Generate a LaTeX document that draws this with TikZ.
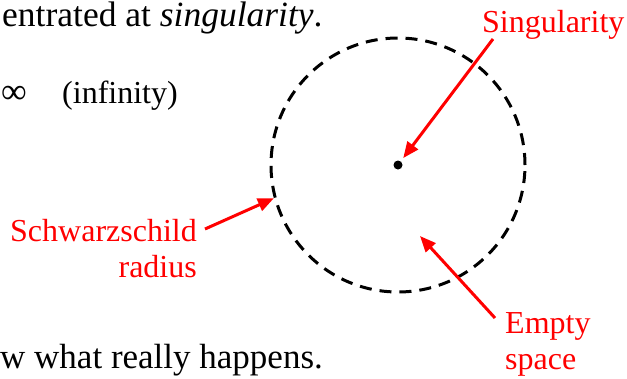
\documentclass[tikz,border=0pt]{standalone}
\usepackage{fontspec}
\setmainfont{Liberation Serif}
\usetikzlibrary{arrows.meta, positioning}
\tikzset{slide/.style={inner sep=0pt,font=\fontsize{35}{40}\selectfont},note/.style={inner sep=0pt,text=red,font=\fontsize{32}{36}\selectfont},ptr/.style={red,line width=3pt,-{Triangle[length=16pt,width=13pt]}}}

\begin{document}
\begin{tikzpicture}[x=1pt,y=-1pt]
\useasboundingbox (0,0) rectangle (627,378);
% slide text around the figure
\node[slide, anchor=base west, font=\fontsize{35.5}{40}\selectfont] (top) at (2,26) {entrated at \textit{singularity}.};
\node[slide, anchor=base west, font=\fontsize{36}{40}\selectfont] (inf) at (1,103) {∞};
\node[slide, anchor=base west, font=\fontsize{32}{36}\selectfont] (infword) at (62,103) {(infinity)};
\node[slide, anchor=base west] (bottom) at (0,368) {w what really happens.};
% black hole
\node[circle, draw, line width=3pt, dash pattern=on 12pt off 8pt, minimum size=254pt, inner sep=0pt] (horizon) at (398,165) {};
\node[circle, fill, minimum size=9pt, inner sep=0pt] (sing) at (398,165) {};
% labels
\node[note, anchor=base west] (singtxt) at (482,32) {Singularity};
\node[note, align=right, anchor=north east] (radtxt) at (197,219) {Schwarzschild\\radius};
\node[note, align=left, anchor=north west] (emptytxt) at (505,312) {Empty\\space};
\coordinate (singtail) at (493,39);
\coordinate (radtail) at (205,229);
\coordinate (emptytail) at (495,318);
\coordinate (emptytip) at (420,236);
\draw[ptr, shorten >=4pt] (singtail) -- (sing);
\draw[ptr] (radtail) -- (horizon.195);
\draw[ptr] (emptytail) -- (emptytip);
\end{tikzpicture}
\end{document}
